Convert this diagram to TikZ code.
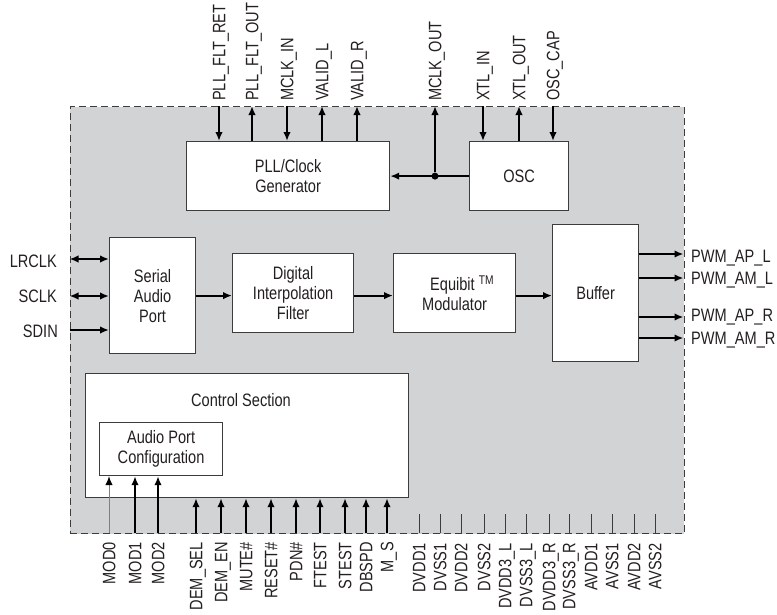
\documentclass[tikz,border=0pt]{standalone}
\usepackage{fontspec}
\setmainfont[FakeStretch=0.81]{Liberation Sans}
\usetikzlibrary{arrows.meta}
\definecolor{chipgray}{RGB}{209,211,212}
\definecolor{edge}{RGB}{60,60,60}
\definecolor{ink}{RGB}{35,31,32}
\begin{document}
\begin{tikzpicture}[x=1pt,y=-1pt,
  font=\fontsize{18}{20}\selectfont, text=ink,
  blk/.style={draw=edge, line width=1.2pt, fill=white, inner sep=0pt, align=center, anchor=north west},
  arr/.style={line width=1.8pt, -{Latex[length=9pt,width=7.5pt]}},
  darr/.style={line width=1.8pt, {Latex[length=9pt,width=7.5pt]}-{Latex[length=9pt,width=7.5pt]}},
  thinarr/.style={line width=1pt, draw=gray, -{Latex[length=9pt,width=7.5pt,color=black]}},
  lbl/.style={inner sep=0pt, text height=12.9pt, text depth=0pt},
  toplbl/.style={lbl, rotate=90, anchor=west},
  botlbl/.style={lbl, rotate=90, anchor=east},
  tick/.style={draw=edge, line width=1pt}]
\useasboundingbox (0,0) rectangle (777,614);

% chip outline
\node[draw=edge, line width=1.1pt, dash pattern=on 7pt off 4pt, fill=chipgray,
      anchor=north west, minimum width=614pt, minimum height=427pt, inner sep=0pt] (chip) at (69.5,106) {};

% blocks
\node[blk, minimum width=203pt, minimum height=69pt] (pll) at (186,141) {PLL/Clock\\Generator};
\node[blk, minimum width=99pt, minimum height=69pt] (osc) at (469,141) {OSC};
\node[blk, minimum width=86pt, minimum height=116pt] (sap) at (109,237) {Serial\\Audio\\Port};
\node[blk, minimum width=121pt, minimum height=79pt] (dif) at (232,253) {Digital\\Interpolation\\Filter};
\node[blk, minimum width=122pt, minimum height=79pt] (mod) at (393,253) {\hspace*{15pt}Equibit \textsuperscript{TM}\\Modulator};
\node[blk, minimum width=86pt, minimum height=137pt] (buf) at (552,224) {Buffer};
\node[blk, minimum width=323pt, minimum height=124pt] (ctl) at (85,373) {};
\node[lbl] (ctltxt) at (241,400) {Control Section};
\node[blk, minimum width=123pt, minimum height=53pt] (apc) at (99,422) {Audio Port\\Configuration};

% data path
\draw[arr] (sap.east) -- (sap.east -| dif.west);
\draw[arr] (sap.east -| dif.east) -- (sap.east -| mod.west);
\draw[arr] (sap.east -| mod.east) -- (sap.east -| buf.west);

% clock
\coordinate (tMO) at (435,106);
\draw[arr] (osc.west) -- (pll.east);
\node[circle, fill, inner sep=0pt, minimum size=7pt] (jct) at (osc.west -| tMO) {};
\draw[arr] (jct) -- (tMO);
\node[toplbl] (lMO) at (435,101) {MCLK\_OUT};

% top pins of PLL
\coordinate (t1) at (219,106);
\coordinate (t2) at (252,106);
\coordinate (t3) at (287,106);
\coordinate (t4) at (322,106);
\coordinate (t5) at (357,106);
\draw[arr] (t1) -- (t1 |- pll.north);
\draw[arr] (t2 |- pll.north) -- (t2);
\draw[arr] (t3) -- (t3 |- pll.north);
\draw[arr] (t4 |- pll.north) -- (t4);
\draw[arr] (t5 |- pll.north) -- (t5);
\node[toplbl] (l1) at (219,101) {PLL\_FLT\_RET};
\node[toplbl] (l2) at (252,101) {PLL\_FLT\_OUT};
\node[toplbl] (l3) at (287,101) {MCLK\_IN};
\node[toplbl] (l4) at (322,101) {VALID\_L};
\node[toplbl] (l5) at (357,101) {VALID\_R};

% top pins of OSC
\coordinate (t6) at (483,106);
\coordinate (t7) at (519,106);
\coordinate (t8) at (553,106);
\draw[arr] (t6) -- (t6 |- osc.north);
\draw[arr] (t7 |- osc.north) -- (t7);
\draw[arr] (t8) -- (t8 |- osc.north);
\node[toplbl] (l6) at (483,101) {XTL\_IN};
\node[toplbl] (l7) at (519,101) {XTL\_OUT};
\node[toplbl] (l8) at (553,101) {OSC\_CAP};

% left pins
\coordinate (s1) at (69.5,259);
\coordinate (s2) at (69.5,296);
\coordinate (s3) at (69.5,330);
\draw[darr] (s1) -- (s1 -| sap.west);
\draw[darr] (s2) -- (s2 -| sap.west);
\draw[arr] (s3) -- (s3 -| sap.west);
\node[lbl, anchor=east] (ls1) at (57,261) {LRCLK};
\node[lbl, anchor=east] (ls2) at (57,296) {SCLK};
\node[lbl, anchor=east] (ls3) at (58,331) {SDIN};

% right pins
\coordinate (o1) at (683.5,254);
\coordinate (o2) at (683.5,278);
\coordinate (o3) at (683.5,317);
\coordinate (o4) at (683.5,338);
\draw[arr] (o1 -| buf.east) -- (o1);
\draw[arr] (o2 -| buf.east) -- (o2);
\draw[arr] (o3 -| buf.east) -- (o3);
\draw[arr] (o4 -| buf.east) -- (o4);
\node[lbl, anchor=west] (lo1) at (691,256) {PWM\_AP\_L};
\node[lbl, anchor=west] (lo2) at (691,278) {PWM\_AM\_L};
\node[lbl, anchor=west] (lo3) at (691,315) {PWM\_AP\_R};
\node[lbl, anchor=west] (lo4) at (691,338) {PWM\_AM\_R};

% bottom: mode pins
\coordinate (m0) at (109,533);
\coordinate (m1) at (135,533);
\coordinate (m2) at (158,533);
\draw[thinarr] (m0) -- (m0 |- apc.south);
\draw[arr] (m1) -- (m1 |- apc.south);
\draw[arr] (m2) -- (m2 |- apc.south);
\node[botlbl] (lm0) at (109,542) {MOD0};
\node[botlbl] (lm1) at (135,542) {MOD1};
\node[botlbl] (lm2) at (158,542) {MOD2};

% bottom: control pins
\foreach \x/\t [count=\i] in {196/DEM\_SEL, 221/DEM\_EN, 246/MUTE\#, 271/RESET\#, 296/PDN\#, 320/FTEST, 345/STEST, 366/DBSPD, 387/M\_S}{
  \coordinate (c\i) at (\x,533);
  \draw[arr] (c\i) -- (c\i |- ctl.south);
  \node[botlbl] (lc\i) at (\x,542) {\t};
}

% bottom: supply pins
\foreach \x/\t [count=\i] in {419/DVDD1, 440/DVSS1, 461/DVDD2, 484/DVSS2, 505/DVDD3\_L, 526/DVSS3\_L, 549/DVDD3\_R, 569/DVSS3\_R, 591/AVDD1, 612/AVSS1, 634/AVDD2, 655/AVSS2}{
  \coordinate (p\i) at (\x,533);
  \draw[tick] (p\i) -- ++(0,-19);
  \node[botlbl] (lp\i) at (\x,543) {\t};
}
\end{tikzpicture}
\end{document}
